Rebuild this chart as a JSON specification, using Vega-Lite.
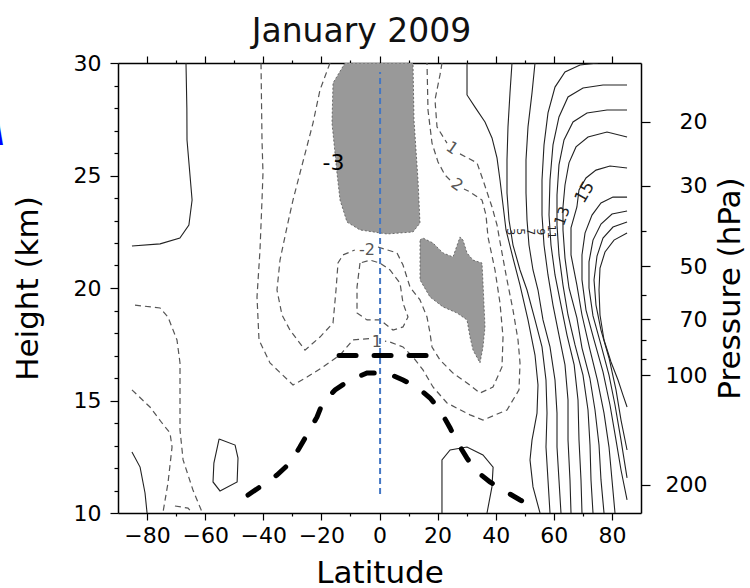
{
  "$schema": "https://vega.github.io/schema/vega-lite/v6.json",
  "autosize": {"type": "none"},
  "padding": {"left": 118, "top": 63, "right": 109, "bottom": 75},
  "width": 523,
  "height": 450,
  "background": "white",
  "title": {"text": "January 2009", "fontSize": 33, "font": "DejaVu Sans", "fontWeight": "normal", "color": "#111", "offset": 18, "baseline": "alphabetic", "dx": -18, "dy": 41},
  "config": {
    "view": {"stroke": null},
    "font": "DejaVu Sans",
    "axis": {"domainColor": "#000", "domainWidth": 1.5, "tickColor": "#000", "tickWidth": 1.2, "labelFont": "DejaVu Sans", "labelFontSize": 22, "labelColor": "#000", "titleFont": "DejaVu Sans", "titleFontSize": 31, "titleFontWeight": "normal", "titleColor": "#000", "grid": false}
  },
  "datasets": {
    "pos": [
      {"c":"p1","i":0,"lat":-66.6,"h":30},{"c":"p1","i":1,"lat":-66.3,"h":28.0},{"c":"p1","i":2,"lat":-66.25,"h":26.58},{"c":"p1","i":3,"lat":-64.5,"h":23.91},{"c":"p1","i":4,"lat":-65.6,"h":22.8},{"c":"p1","i":5,"lat":-68.7,"h":22.22},{"c":"p1","i":6,"lat":-75.5,"h":21.96},{"c":"p1","i":7,"lat":-85.2,"h":21.87},
      {"c":"p2","i":0,"lat":-85.2,"h":12.71},{"c":"p2","i":1,"lat":-82.4,"h":12.04},{"c":"p2","i":2,"lat":-80.7,"h":10.89},{"c":"p2","i":3,"lat":-80.0,"h":10.0},
      {"c":"p3","i":0,"lat":-55.2,"h":13.29},{"c":"p3","i":1,"lat":-49.7,"h":13.02},{"c":"p3","i":2,"lat":-48.7,"h":12.44},{"c":"p3","i":3,"lat":-49.0,"h":11.38},{"c":"p3","i":4,"lat":-54.9,"h":10.98},{"c":"p3","i":5,"lat":-57.3,"h":11.38},{"c":"p3","i":6,"lat":-57.0,"h":12.22},{"c":"p3","i":7,"lat":-55.2,"h":13.29},
      {"c":"p4","i":0,"lat":21.5,"h":10.0},{"c":"p4","i":1,"lat":21.5,"h":12.36},{"c":"p4","i":2,"lat":24.3,"h":12.8},{"c":"p4","i":3,"lat":30.1,"h":12.93},{"c":"p4","i":4,"lat":35.6,"h":12.58},{"c":"p4","i":5,"lat":39.1,"h":12.04},{"c":"p4","i":6,"lat":38.7,"h":11.16},{"c":"p4","i":7,"lat":37.0,"h":10.0},
      {"c":"a","i":0,"lat":30.12,"h":30},{"c":"a","i":1,"lat":30.12,"h":28.58},{"c":"a","i":2,"lat":32.87,"h":28.04},{"c":"a","i":3,"lat":36.31,"h":27.38},{"c":"a","i":4,"lat":38.72,"h":26.67},{"c":"a","i":5,"lat":40.44,"h":25.78},{"c":"a","i":6,"lat":41.47,"h":24.8},{"c":"a","i":7,"lat":42.51,"h":23.69},{"c":"a","i":8,"lat":43.54,"h":22.58},{"c":"a","i":9,"lat":45.95,"h":21.33},{"c":"a","i":10,"lat":48.36,"h":20.13},{"c":"a","i":11,"lat":51.11,"h":18.58},{"c":"a","i":12,"lat":53.52,"h":17.02},{"c":"a","i":13,"lat":54.55,"h":15.69},{"c":"a","i":14,"lat":54.21,"h":14.44},{"c":"a","i":15,"lat":52.49,"h":13.24},{"c":"a","i":16,"lat":51.8,"h":12.36},{"c":"a","i":17,"lat":52.83,"h":11.16},{"c":"a","i":18,"lat":55.24,"h":10.0},
      {"c":"b","i":0,"lat":45.6,"h":30},{"c":"b","i":1,"lat":44.91,"h":28.67},{"c":"b","i":2,"lat":44.22,"h":27.16},{"c":"b","i":3,"lat":43.88,"h":25.69},{"c":"b","i":4,"lat":43.88,"h":24.22},{"c":"b","i":5,"lat":44.57,"h":23.02},{"c":"b","i":6,"lat":45.95,"h":21.91},{"c":"b","i":7,"lat":48.36,"h":20.8},{"c":"b","i":8,"lat":50.77,"h":19.91},{"c":"b","i":9,"lat":53.52,"h":18.58},{"c":"b","i":10,"lat":55.93,"h":17.38},{"c":"b","i":11,"lat":57.3,"h":15.91},{"c":"b","i":12,"lat":57.65,"h":14.44},{"c":"b","i":13,"lat":57.3,"h":12.93},{"c":"b","i":14,"lat":57.99,"h":11.47},{"c":"b","i":15,"lat":58.68,"h":10.0},
      {"c":"cc","i":0,"lat":53.52,"h":30},{"c":"cc","i":1,"lat":52.49,"h":28.67},{"c":"cc","i":2,"lat":51.11,"h":27.16},{"c":"cc","i":3,"lat":50.42,"h":25.69},{"c":"cc","i":4,"lat":50.42,"h":24.22},{"c":"cc","i":5,"lat":50.77,"h":23.02},{"c":"cc","i":6,"lat":51.45,"h":21.91},{"c":"cc","i":7,"lat":52.83,"h":20.8},{"c":"cc","i":8,"lat":54.55,"h":19.91},{"c":"cc","i":9,"lat":56.27,"h":18.58},{"c":"cc","i":10,"lat":58.68,"h":17.38},{"c":"cc","i":11,"lat":60.4,"h":15.91},{"c":"cc","i":12,"lat":61.09,"h":14.44},{"c":"cc","i":13,"lat":61.09,"h":12.93},{"c":"cc","i":14,"lat":61.77,"h":11.47},{"c":"cc","i":15,"lat":62.46,"h":10.0},
      {"c":"d","i":0,"lat":75.2,"h":30},{"c":"d","i":1,"lat":69.01,"h":29.91},{"c":"d","i":2,"lat":63.84,"h":29.6},{"c":"d","i":3,"lat":60.4,"h":28.93},{"c":"d","i":4,"lat":57.99,"h":27.78},{"c":"d","i":5,"lat":56.62,"h":26.36},{"c":"d","i":6,"lat":55.93,"h":24.8},{"c":"d","i":7,"lat":55.93,"h":23.24},{"c":"d","i":8,"lat":56.62,"h":21.91},{"c":"d","i":9,"lat":57.99,"h":20.58},{"c":"d","i":10,"lat":59.71,"h":19.24},{"c":"d","i":11,"lat":61.77,"h":17.91},{"c":"d","i":12,"lat":63.84,"h":16.58},{"c":"d","i":13,"lat":64.88,"h":15.02},{"c":"d","i":14,"lat":64.88,"h":13.24},{"c":"d","i":15,"lat":65.56,"h":11.47},{"c":"d","i":16,"lat":65.91,"h":10.0},
      {"c":"e","i":0,"lat":85.2,"h":29.02},{"c":"e","i":1,"lat":76.92,"h":29.02},{"c":"e","i":2,"lat":70.04,"h":28.89},{"c":"e","i":3,"lat":64.88,"h":28.49},{"c":"e","i":4,"lat":61.77,"h":27.6},{"c":"e","i":5,"lat":59.71,"h":26.36},{"c":"e","i":6,"lat":58.68,"h":24.8},{"c":"e","i":7,"lat":58.34,"h":23.24},{"c":"e","i":8,"lat":59.02,"h":21.91},{"c":"e","i":9,"lat":60.4,"h":20.58},{"c":"e","i":10,"lat":62.46,"h":19.24},{"c":"e","i":11,"lat":64.53,"h":17.91},{"c":"e","i":12,"lat":67.0,"h":16.58},{"c":"e","i":13,"lat":68.32,"h":15.02},{"c":"e","i":14,"lat":68.66,"h":13.24},{"c":"e","i":15,"lat":69.35,"h":11.47},{"c":"e","i":16,"lat":69.69,"h":10.0},
      {"c":"f","i":0,"lat":85.2,"h":27.91},{"c":"f","i":1,"lat":78.3,"h":27.91},{"c":"f","i":2,"lat":71.41,"h":27.78},{"c":"f","i":3,"lat":66.6,"h":27.38},{"c":"f","i":4,"lat":63.5,"h":26.58},{"c":"f","i":5,"lat":61.77,"h":25.47},{"c":"f","i":6,"lat":61.09,"h":24.13},{"c":"f","i":7,"lat":61.09,"h":22.8},{"c":"f","i":8,"lat":61.77,"h":21.47},{"c":"f","i":9,"lat":63.15,"h":20.13},{"c":"f","i":10,"lat":64.88,"h":18.8},{"c":"f","i":11,"lat":67.29,"h":17.47},{"c":"f","i":12,"lat":70.04,"h":16.13},{"c":"f","i":13,"lat":71.76,"h":14.58},{"c":"f","i":14,"lat":72.45,"h":13.02},{"c":"f","i":15,"lat":72.79,"h":11.47},{"c":"f","i":16,"lat":73.48,"h":10.0},
      {"c":"g","i":0,"lat":85.2,"h":26.71},{"c":"g","i":1,"lat":78.3,"h":26.93},{"c":"g","i":2,"lat":71.76,"h":26.71},{"c":"g","i":3,"lat":67.63,"h":26.27},{"c":"g","i":4,"lat":65.22,"h":25.56},{"c":"g","i":5,"lat":63.84,"h":24.58},{"c":"g","i":6,"lat":63.15,"h":23.6},{"c":"g","i":7,"lat":63.15,"h":22.58},{"c":"g","i":8,"lat":63.84,"h":21.33},{"c":"g","i":9,"lat":65.22,"h":20.0},{"c":"g","i":10,"lat":67.94,"h":18.67},{"c":"g","i":11,"lat":69.7,"h":17.33},{"c":"g","i":12,"lat":72.4,"h":16.0},{"c":"g","i":13,"lat":74.17,"h":14.58},{"c":"g","i":14,"lat":75.55,"h":13.02},{"c":"g","i":15,"lat":76.23,"h":11.47},{"c":"g","i":16,"lat":77.27,"h":10.0},
      {"c":"hh","i":0,"lat":85.2,"h":25.33},{"c":"hh","i":1,"lat":79.33,"h":25.42},{"c":"hh","i":2,"lat":74.51,"h":25.24},{"c":"hh","i":3,"lat":71.07,"h":24.89},{"c":"hh","i":4,"lat":68.66,"h":24.36},{"c":"hh","i":5,"lat":67.94,"h":23.6},{"c":"hh","i":6,"lat":65.91,"h":22.67},{"c":"hh","i":7,"lat":65.91,"h":21.47},{"c":"hh","i":8,"lat":67.94,"h":20.13},{"c":"hh","i":9,"lat":69.69,"h":18.8},{"c":"hh","i":10,"lat":72.3,"h":17.33},{"c":"hh","i":11,"lat":75.0,"h":15.91},{"c":"hh","i":12,"lat":77.27,"h":14.44},{"c":"hh","i":13,"lat":78.99,"h":12.93},{"c":"hh","i":14,"lat":80.02,"h":11.47},{"c":"hh","i":15,"lat":81.05,"h":10.0},
      {"c":"ii","i":0,"lat":85.2,"h":24.04},{"c":"ii","i":1,"lat":80.36,"h":24.04},{"c":"ii","i":2,"lat":76.23,"h":23.78},{"c":"ii","i":3,"lat":73.14,"h":23.24},{"c":"ii","i":4,"lat":70.73,"h":22.44},{"c":"ii","i":5,"lat":69.69,"h":21.47},{"c":"ii","i":6,"lat":69.69,"h":20.36},{"c":"ii","i":7,"lat":71.07,"h":19.02},{"c":"ii","i":8,"lat":73.83,"h":17.69},{"c":"ii","i":9,"lat":76.92,"h":16.27},{"c":"ii","i":10,"lat":79.33,"h":14.8},{"c":"ii","i":11,"lat":81.4,"h":13.24},{"c":"ii","i":12,"lat":83.12,"h":11.91},{"c":"ii","i":13,"lat":85.2,"h":10.58},
      {"c":"k","i":0,"lat":85.2,"h":23.42},{"c":"k","i":1,"lat":80.02,"h":23.29},{"c":"k","i":2,"lat":76.23,"h":22.84},{"c":"k","i":3,"lat":73.48,"h":22.13},{"c":"k","i":4,"lat":72.1,"h":21.16},{"c":"k","i":5,"lat":72.1,"h":20.0},{"c":"k","i":6,"lat":73.48,"h":18.76},{"c":"k","i":7,"lat":76.23,"h":17.47},{"c":"k","i":8,"lat":78.99,"h":16.13},{"c":"k","i":9,"lat":81.05,"h":14.8},{"c":"k","i":10,"lat":83.12,"h":13.24},{"c":"k","i":11,"lat":85.2,"h":11.56},
      {"c":"m","i":0,"lat":85.2,"h":22.93},{"c":"m","i":1,"lat":80.36,"h":22.71},{"c":"m","i":2,"lat":76.92,"h":22.22},{"c":"m","i":3,"lat":74.86,"h":21.42},{"c":"m","i":4,"lat":73.83,"h":20.36},{"c":"m","i":5,"lat":74.51,"h":19.24},{"c":"m","i":6,"lat":76.23,"h":18.13},{"c":"m","i":7,"lat":78.99,"h":16.89},{"c":"m","i":8,"lat":81.4,"h":15.47},{"c":"m","i":9,"lat":83.12,"h":14.13},{"c":"m","i":10,"lat":85.2,"h":12.8},
      {"c":"j","i":0,"lat":85.2,"h":22.44},{"c":"j","i":1,"lat":80.71,"h":22.13},{"c":"j","i":2,"lat":77.61,"h":21.6},{"c":"j","i":3,"lat":75.89,"h":20.89},{"c":"j","i":4,"lat":75.55,"h":19.91},{"c":"j","i":5,"lat":75.89,"h":18.8},{"c":"j","i":6,"lat":77.27,"h":17.69},{"c":"j","i":7,"lat":79.68,"h":16.71},{"c":"j","i":8,"lat":82.09,"h":15.91},{"c":"j","i":9,"lat":83.8,"h":15.24},{"c":"j","i":10,"lat":85.2,"h":14.71}
    ],
    "neg": [
      {"c":"n1a","i":0,"lat":21.51,"h":30},{"c":"n1a","i":1,"lat":20.82,"h":29.47},{"c":"n1a","i":2,"lat":19.1,"h":28.36},{"c":"n1a","i":3,"lat":19.79,"h":27.16},{"c":"n1a","i":4,"lat":23.23,"h":26.44},
      {"c":"n1b","i":0,"lat":27.71,"h":25.96},{"c":"n1b","i":1,"lat":33.56,"h":25.56},{"c":"n1b","i":2,"lat":35.62,"h":24.8},{"c":"n1b","i":3,"lat":38.72,"h":23.6},{"c":"n1b","i":4,"lat":40.44,"h":22.8},{"c":"n1b","i":5,"lat":42.16,"h":21.56},{"c":"n1b","i":6,"lat":43.88,"h":20.36},{"c":"n1b","i":7,"lat":45.95,"h":19.02},{"c":"n1b","i":8,"lat":47.67,"h":17.69},{"c":"n1b","i":9,"lat":48.36,"h":16.67},{"c":"n1b","i":10,"lat":48.01,"h":15.47},{"c":"n1b","i":11,"lat":43.88,"h":14.58},{"c":"n1b","i":12,"lat":35.62,"h":14.13},{"c":"n1b","i":13,"lat":31.15,"h":14.36},{"c":"n1b","i":14,"lat":23.23,"h":14.89},{"c":"n1b","i":15,"lat":18.41,"h":15.6},{"c":"n1b","i":16,"lat":14.97,"h":16.36},{"c":"n1b","i":17,"lat":11.53,"h":16.93},{"c":"n1b","i":18,"lat":8.09,"h":17.38},{"c":"n1b","i":19,"lat":3.61,"h":17.6},{"c":"n1b","i":20,"lat":1.89,"h":17.64},
      {"c":"n1c","i":0,"lat":-3.6,"h":17.75},{"c":"n1c","i":1,"lat":-9.12,"h":17.69},{"c":"n1c","i":2,"lat":-13.59,"h":17.02},{"c":"n1c","i":3,"lat":-19.45,"h":16.49},{"c":"n1c","i":4,"lat":-24.95,"h":16.04},{"c":"n1c","i":5,"lat":-29.77,"h":15.69},{"c":"n1c","i":6,"lat":-37.69,"h":16.67},{"c":"n1c","i":7,"lat":-41.47,"h":17.69},{"c":"n1c","i":8,"lat":-42.16,"h":19.6},{"c":"n1c","i":9,"lat":-41.13,"h":21.69},{"c":"n1c","i":10,"lat":-40.44,"h":23.91},{"c":"n1c","i":11,"lat":-40.1,"h":25.11},{"c":"n1c","i":12,"lat":-40.44,"h":26.58},{"c":"n1c","i":13,"lat":-40.78,"h":30},
      {"c":"n2a","i":0,"lat":-17.04,"h":30},{"c":"n2a","i":1,"lat":-20.48,"h":28.8},{"c":"n2a","i":2,"lat":-22.89,"h":27.33},{"c":"n2a","i":3,"lat":-25.3,"h":26.13},{"c":"n2a","i":4,"lat":-27.36,"h":25.11},{"c":"n2a","i":5,"lat":-29.77,"h":23.91},{"c":"n2a","i":6,"lat":-31.84,"h":22.71},{"c":"n2a","i":7,"lat":-34.24,"h":21.24},{"c":"n2a","i":8,"lat":-35.28,"h":19.91},{"c":"n2a","i":9,"lat":-33.56,"h":18.8},{"c":"n2a","i":10,"lat":-30.8,"h":18.13},{"c":"n2a","i":11,"lat":-25.64,"h":17.24},{"c":"n2a","i":12,"lat":-20.48,"h":17.82},{"c":"n2a","i":13,"lat":-16.0,"h":18.44},{"c":"n2a","i":14,"lat":-14.97,"h":19.91},{"c":"n2a","i":15,"lat":-14.28,"h":21.11},{"c":"n2a","i":16,"lat":-12.56,"h":21.47},{"c":"n2a","i":17,"lat":-8.5,"h":21.69},
      {"c":"n2b","i":0,"lat":-0.52,"h":21.82},{"c":"n2b","i":1,"lat":6.02,"h":21.56},{"c":"n2b","i":2,"lat":8.09,"h":21.02},{"c":"n2b","i":3,"lat":10.5,"h":20.04},{"c":"n2b","i":4,"lat":13.94,"h":19.47},{"c":"n2b","i":5,"lat":16.35,"h":18.71},{"c":"n2b","i":6,"lat":17.38,"h":18.0},{"c":"n2b","i":7,"lat":18.07,"h":17.38},{"c":"n2b","i":8,"lat":20.82,"h":16.8},{"c":"n2b","i":9,"lat":25.3,"h":16.22},{"c":"n2b","i":10,"lat":30.12,"h":15.78},{"c":"n2b","i":11,"lat":34.59,"h":15.33},{"c":"n2b","i":12,"lat":39.06,"h":15.6},{"c":"n2b","i":13,"lat":42.16,"h":16.49},{"c":"n2b","i":14,"lat":42.51,"h":17.82},{"c":"n2b","i":15,"lat":41.47,"h":19.33},{"c":"n2b","i":16,"lat":39.75,"h":20.8},{"c":"n2b","i":17,"lat":37.34,"h":22.27},{"c":"n2b","i":18,"lat":36.65,"h":23.24},{"c":"n2b","i":19,"lat":35.28,"h":23.91},{"c":"n2b","i":20,"lat":31.15,"h":24.27},{"c":"n2b","i":21,"lat":29.08,"h":24.4},
      {"c":"n2c","i":0,"lat":24.26,"h":24.8},{"c":"n2c","i":1,"lat":22.54,"h":25.02},{"c":"n2c","i":2,"lat":20.14,"h":25.6},{"c":"n2c","i":3,"lat":18.07,"h":26.44},{"c":"n2c","i":4,"lat":16.69,"h":27.91},{"c":"n2c","i":5,"lat":16.35,"h":30},
      {"c":"n3","i":0,"lat":-6.71,"h":21.11},{"c":"n3","i":1,"lat":-7.74,"h":20.04},{"c":"n3","i":2,"lat":-7.74,"h":18.89},{"c":"n3","i":3,"lat":-4.3,"h":18.58},{"c":"n3","i":4,"lat":0.17,"h":18.58},{"c":"n3","i":5,"lat":4.65,"h":18.13},{"c":"n3","i":6,"lat":8.09,"h":18.27},{"c":"n3","i":7,"lat":9.81,"h":18.71},{"c":"n3","i":8,"lat":8.09,"h":19.33},{"c":"n3","i":9,"lat":7.06,"h":20.22},{"c":"n3","i":10,"lat":3.61,"h":20.8},{"c":"n3","i":11,"lat":0.17,"h":21.11},{"c":"n3","i":12,"lat":-3.27,"h":21.24},{"c":"n3","i":13,"lat":-6.71,"h":21.11},
      {"c":"n4","i":0,"lat":-84.15,"h":19.24},{"c":"n4","i":1,"lat":-75.5,"h":19.11},{"c":"n4","i":2,"lat":-72.8,"h":18.71},{"c":"n4","i":3,"lat":-69.7,"h":17.69},{"c":"n4","i":4,"lat":-68.66,"h":16.67},{"c":"n4","i":5,"lat":-68.66,"h":13.69},{"c":"n4","i":6,"lat":-67.6,"h":12.36},{"c":"n4","i":7,"lat":-64.2,"h":11.02},{"c":"n4","i":8,"lat":-61.1,"h":10.05},
      {"c":"n5","i":0,"lat":-85.2,"h":15.47},{"c":"n5","i":1,"lat":-79.0,"h":14.71},{"c":"n5","i":2,"lat":-74.86,"h":14.0},{"c":"n5","i":3,"lat":-72.1,"h":13.56},{"c":"n5","i":4,"lat":-71.4,"h":12.93},{"c":"n5","i":5,"lat":-72.8,"h":11.33},{"c":"n5","i":6,"lat":-74.5,"h":10.04},
      {"c":"n6","i":0,"lat":-70.4,"h":10.31},{"c":"n6","i":1,"lat":-65.9,"h":10.22},{"c":"n6","i":2,"lat":-64.5,"h":10.0}
    ],
    "stip": [
      {"c":"s1","i":0,"lat":-11.87,"h":30},{"c":"s1","i":1,"lat":-16.0,"h":29.11},{"c":"s1","i":2,"lat":-16.35,"h":27.33},{"c":"s1","i":3,"lat":-14.63,"h":25.11},{"c":"s1","i":4,"lat":-13.59,"h":23.91},{"c":"s1","i":5,"lat":-11.18,"h":22.93},{"c":"s1","i":6,"lat":-6.71,"h":22.58},{"c":"s1","i":7,"lat":2.58,"h":22.4},{"c":"s1","i":8,"lat":11.53,"h":22.49},{"c":"s1","i":9,"lat":13.94,"h":22.89},{"c":"s1","i":10,"lat":13.25,"h":24.8},{"c":"s1","i":11,"lat":11.87,"h":27.47},{"c":"s1","i":12,"lat":11.53,"h":30},{"c":"s1","i":13,"lat":-11.87,"h":30},
      {"c":"s2","i":0,"lat":13.94,"h":22.13},{"c":"s2","i":1,"lat":14.97,"h":22.22},{"c":"s2","i":2,"lat":18.41,"h":22.0},{"c":"s2","i":3,"lat":21.85,"h":21.56},{"c":"s2","i":4,"lat":25.3,"h":21.38},{"c":"s2","i":5,"lat":27.71,"h":22.27},{"c":"s2","i":6,"lat":28.74,"h":22.13},{"c":"s2","i":7,"lat":30.12,"h":21.56},{"c":"s2","i":8,"lat":32.18,"h":21.24},{"c":"s2","i":9,"lat":35.28,"h":21.11},{"c":"s2","i":10,"lat":35.62,"h":20.22},{"c":"s2","i":11,"lat":36.31,"h":18.27},{"c":"s2","i":12,"lat":35.62,"h":17.38},{"c":"s2","i":13,"lat":34.59,"h":16.67},{"c":"s2","i":14,"lat":32.18,"h":17.24},{"c":"s2","i":15,"lat":31.15,"h":17.82},{"c":"s2","i":16,"lat":30.12,"h":18.58},{"c":"s2","i":17,"lat":26.67,"h":18.89},{"c":"s2","i":18,"lat":21.85,"h":19.16},{"c":"s2","i":19,"lat":17.38,"h":19.6},{"c":"s2","i":20,"lat":13.94,"h":20.36},{"c":"s2","i":21,"lat":13.94,"h":22.13}
    ],
    "tropo": [
      {"c":"t1","i":0,"lat":-45.26,"h":10.8},{"c":"t1","i":1,"lat":-40.1,"h":11.25},{"c":"t1","i":2,"lat":-35.3,"h":11.69},{"c":"t1","i":3,"lat":-30.8,"h":12.22},{"c":"t1","i":4,"lat":-27.4,"h":12.93},{"c":"t1","i":5,"lat":-24.6,"h":13.56},{"c":"t1","i":6,"lat":-21.5,"h":14.27},{"c":"t1","i":7,"lat":-19.45,"h":14.93},{"c":"t1","i":8,"lat":-15.3,"h":15.47},{"c":"t1","i":9,"lat":-10.15,"h":15.91},{"c":"t1","i":10,"lat":-4.3,"h":16.22},{"c":"t1","i":11,"lat":2.6,"h":16.22},{"c":"t1","i":12,"lat":8.1,"h":15.91},{"c":"t1","i":13,"lat":12.9,"h":15.6},{"c":"t1","i":14,"lat":17.4,"h":15.11},{"c":"t1","i":15,"lat":20.8,"h":14.58},{"c":"t1","i":16,"lat":24.3,"h":13.78},{"c":"t1","i":17,"lat":26.7,"h":13.16},{"c":"t1","i":18,"lat":30.1,"h":12.44},{"c":"t1","i":19,"lat":32.9,"h":11.91},{"c":"t1","i":20,"lat":38.0,"h":11.38},{"c":"t1","i":21,"lat":42.5,"h":11.02},{"c":"t1","i":22,"lat":48.4,"h":10.58},{"c":"t1","i":23,"lat":53.5,"h":10.22}
    ],
    "tropoflat": [
      {"c":"t2","i":0,"lat":-14.6,"h":17.0},{"c":"t2","i":1,"lat":16.3,"h":17.0}
    ],
    "blue": [
      {"c":"bl","i":0,"lat":0.2,"h":10.85},{"c":"bl","i":1,"lat":0.2,"h":29.6}
    ],
    "pressure": [
      {"p":20},{"p":30},{"p":40},{"p":50},{"p":60},{"p":70},{"p":80},{"p":90},{"p":100},{"p":200}
    ]
  },
  "resolve": {"scale": {"x": "independent", "y": "independent"}, "axis": {"x": "independent", "y": "independent"}},
  "layer": [
    {
      "data": {"name": "stip"},
      "mark": {"type": "line", "filled": true, "fill": "#999999", "stroke": "#555", "strokeWidth": 0.8, "strokeDash": [2, 2], "clip": true},
      "encoding": {
        "x": {"field": "lat", "type": "quantitative", "scale": {"domain": [-90, 90], "nice": false, "zero": false}, "axis": null},
        "y": {"field": "h", "type": "quantitative", "scale": {"domain": [10, 30], "nice": false, "zero": false}, "axis": null},
        "detail": {"field": "c"},
        "order": {"field": "i", "type": "quantitative"}
      }
    },
    {
      "data": {"name": "pos"},
      "mark": {"type": "line", "color": "#222", "strokeWidth": 1.1, "clip": true},
      "encoding": {
        "x": {"field": "lat", "type": "quantitative", "scale": {"domain": [-90, 90], "nice": false, "zero": false},
              "axis": {"orient": "bottom", "values": [-80,-70,-60,-50,-40,-30,-20,-10,0,10,20,30,40,50,60,70,80],
                       "labelExpr": "datum.value % 20 === 0 ? datum.label : ''",
                       "tickSize": {"condition": {"test": "datum.value % 20 !== 0", "value": 3}, "value": 7},
                       "labelPadding": 5, "labelFlush": false, "labelOverlap": false, "title": "Latitude", "titlePadding": 12}},
        "y": {"field": "h", "type": "quantitative", "scale": {"domain": [10, 30], "nice": false, "zero": false},
              "axis": {"orient": "left", "values": [10,11,12,13,14,15,16,17,18,19,20,21,22,23,24,25,26,27,28,29,30],
                       "labelExpr": "datum.value % 5 === 0 ? datum.label : ''",
                       "tickSize": {"condition": {"test": "datum.value % 5 !== 0", "value": 4}, "value": 8},
                       "labelPadding": 9, "labelFlush": false, "labelOverlap": false, "title": "Height (km)", "titlePadding": 29}},
        "detail": {"field": "c"},
        "order": {"field": "i", "type": "quantitative"}
      }
    },
    {
      "data": {"name": "neg"},
      "mark": {"type": "line", "color": "#555", "strokeWidth": 1.2, "strokeDash": [6, 4], "clip": true},
      "encoding": {
        "x": {"field": "lat", "type": "quantitative", "scale": {"domain": [-90, 90], "nice": false, "zero": false},
              "axis": {"orient": "top", "values": [-80,-70,-60,-50,-40,-30,-20,-10,0,10,20,30,40,50,60,70,80], "labels": false,
                       "tickSize": {"condition": {"test": "datum.value % 20 !== 0", "value": 3}, "value": 7}, "title": null}},
        "y": {"field": "h", "type": "quantitative", "scale": {"domain": [10, 30], "nice": false, "zero": false}, "axis": null},
        "detail": {"field": "c"},
        "order": {"field": "i", "type": "quantitative"}
      }
    },
    {
      "data": {"name": "blue"},
      "mark": {"type": "line", "color": "#4477c4", "strokeWidth": 2, "strokeDash": [6, 4]},
      "encoding": {
        "x": {"field": "lat", "type": "quantitative", "scale": {"domain": [-90, 90], "nice": false, "zero": false}, "axis": null},
        "y": {"field": "h", "type": "quantitative", "scale": {"domain": [10, 30], "nice": false, "zero": false}, "axis": null},
        "order": {"field": "i", "type": "quantitative"}
      }
    },
    {
      "data": {"name": "tropo"},
      "mark": {"type": "line", "color": "#000", "strokeWidth": 5, "strokeDash": [13, 21], "strokeCap": "round"},
      "encoding": {
        "x": {"field": "lat", "type": "quantitative", "scale": {"domain": [-90, 90], "nice": false, "zero": false}, "axis": null},
        "y": {"field": "h", "type": "quantitative", "scale": {"domain": [10, 30], "nice": false, "zero": false}, "axis": null},
        "order": {"field": "i", "type": "quantitative"}
      }
    },
    {
      "data": {"name": "tropoflat"},
      "mark": {"type": "line", "color": "#000", "strokeWidth": 5, "strokeDash": [17, 18], "strokeCap": "round", "strokeDashOffset": -2},
      "encoding": {
        "x": {"field": "lat", "type": "quantitative", "scale": {"domain": [-90, 90], "nice": false, "zero": false}, "axis": null},
        "y": {"field": "h", "type": "quantitative", "scale": {"domain": [10, 30], "nice": false, "zero": false}, "axis": null},
        "order": {"field": "i", "type": "quantitative"}
      }
    },
    {
      "data": {"values": [{"t": "-2", "lat": -4.3, "h": 21.69}, {"t": "1", "lat": -0.9, "h": 17.62}]},
      "mark": {"type": "text", "fontSize": 16, "color": "#555", "align": "center", "baseline": "middle"},
      "encoding": {
        "x": {"field": "lat", "type": "quantitative", "scale": {"domain": [-90, 90], "nice": false, "zero": false}, "axis": null},
        "y": {"field": "h", "type": "quantitative", "scale": {"domain": [10, 30], "nice": false, "zero": false}, "axis": null},
        "text": {"field": "t"}
      }
    },
    {
      "data": {"values": [{"t": "1", "lat": 24.95, "h": 26.22}, {"t": "2", "lat": 26.67, "h": 24.58}]},
      "mark": {"type": "text", "fontSize": 16, "color": "#555", "align": "center", "baseline": "middle", "angle": 35},
      "encoding": {
        "x": {"field": "lat", "type": "quantitative", "scale": {"domain": [-90, 90], "nice": false, "zero": false}, "axis": null},
        "y": {"field": "h", "type": "quantitative", "scale": {"domain": [10, 30], "nice": false, "zero": false}, "axis": null},
        "text": {"field": "t"}
      }
    },
    {
      "data": {"values": [{"t": "-3", "lat": -15.8, "h": 25.56}]},
      "mark": {"type": "text", "fontSize": 22, "color": "#000", "align": "center", "baseline": "middle"},
      "encoding": {
        "x": {"field": "lat", "type": "quantitative", "scale": {"domain": [-90, 90], "nice": false, "zero": false}, "axis": null},
        "y": {"field": "h", "type": "quantitative", "scale": {"domain": [10, 30], "nice": false, "zero": false}, "axis": null},
        "text": {"field": "t"}
      }
    },
    {
      "data": {"values": [{"t": "13", "lat": 62.8, "h": 23.2}]},
      "mark": {"type": "text", "fontSize": 15, "color": "#222", "align": "center", "baseline": "middle", "angle": 290},
      "encoding": {
        "x": {"field": "lat", "type": "quantitative", "scale": {"domain": [-90, 90], "nice": false, "zero": false}, "axis": null},
        "y": {"field": "h", "type": "quantitative", "scale": {"domain": [10, 30], "nice": false, "zero": false}, "axis": null},
        "text": {"field": "t"}
      }
    },
    {
      "data": {"values": [{"t": "15", "lat": 70.7, "h": 24.25}]},
      "mark": {"type": "text", "fontSize": 17, "color": "#222", "align": "center", "baseline": "middle", "angle": 300},
      "encoding": {
        "x": {"field": "lat", "type": "quantitative", "scale": {"domain": [-90, 90], "nice": false, "zero": false}, "axis": null},
        "y": {"field": "h", "type": "quantitative", "scale": {"domain": [10, 30], "nice": false, "zero": false}, "axis": null},
        "text": {"field": "t"}
      }
    },
    {
      "data": {"values": [{"t": "3", "lat": 44.9, "h": 22.5}, {"t": "5", "lat": 48.4, "h": 22.5}, {"t": "7", "lat": 51.8, "h": 22.5}, {"t": "9", "lat": 55.2, "h": 22.5}, {"t": "11", "lat": 59.0, "h": 22.5}]},
      "mark": {"type": "text", "fontSize": 11, "color": "#222", "align": "center", "baseline": "middle", "angle": 90},
      "encoding": {
        "x": {"field": "lat", "type": "quantitative", "scale": {"domain": [-90, 90], "nice": false, "zero": false}, "axis": null},
        "y": {"field": "h", "type": "quantitative", "scale": {"domain": [10, 30], "nice": false, "zero": false}, "axis": null},
        "text": {"field": "t"}
      }
    },
    {
      "data": {"values": [{"t": "A", "lat": -128.5, "h": 26.36}]},
      "mark": {"type": "text", "fontSize": 40, "fontWeight": "bold", "fontStyle": "italic", "color": "#0000ff", "align": "right", "baseline": "alphabetic"},
      "encoding": {
        "x": {"field": "lat", "type": "quantitative", "scale": {"domain": [-90, 90], "nice": false, "zero": false}, "axis": null},
        "y": {"field": "h", "type": "quantitative", "scale": {"domain": [10, 30], "nice": false, "zero": false}, "axis": null},
        "text": {"field": "t"}
      }
    },
    {
      "data": {"name": "pressure"},
      "mark": {"type": "point", "opacity": 0},
      "encoding": {
        "y": {"field": "p", "type": "quantitative", "scale": {"type": "log", "domain": [13.764, 239.65], "reverse": true, "nice": false, "zero": false},
              "axis": {"orient": "right", "values": [20,30,40,50,60,70,80,90,100,200],
                       "labelExpr": "indexof([20,30,50,70,100,200], datum.value) >= 0 ? '' + datum.value : ''",
                       "tickSize": {"condition": {"test": "indexof([20,30,50,70,100,200], datum.value) < 0", "value": 5}, "value": 9},
                       "labelAlign": "right", "labelPadding": 57, "labelFlush": false, "labelOverlap": false,
                       "title": "Pressure (hPa)", "titleAngle": 270, "titleBaseline": "top", "titlePadding": 8}}
      }
    }
  ]
}
